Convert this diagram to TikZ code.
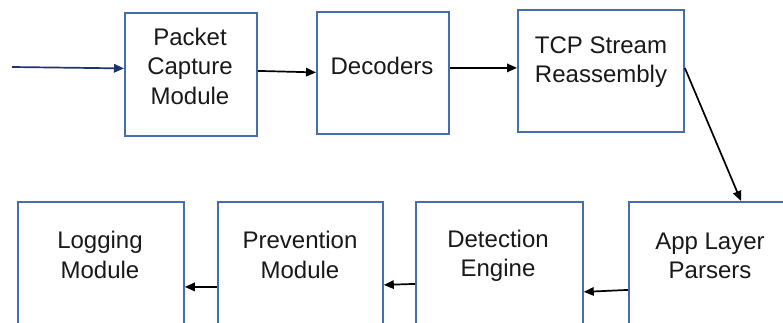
\documentclass[tikz,border=0pt]{standalone}
\usepackage{fontspec}
\setmainfont{Liberation Sans}
\usetikzlibrary{arrows.meta}
\definecolor{boxblue}{RGB}{70,108,178}
\definecolor{inblue}{RGB}{30,52,110}
\tikzset{
  stage/.style={draw=boxblue, line width=1.8pt, fill=white, anchor=north west,
    inner sep=0pt},
  lbl/.style={align=center, font=\fontsize{24}{29.5}\selectfont, text=black!90, inner sep=0pt},
  flow/.style={line width=1.7pt, -{Triangle[length=10pt,width=8.5pt]}},
}
\begin{document}
\begin{tikzpicture}[x=1pt,y=-1pt]
  \useasboundingbox (0,0) rectangle (783,322);
  \clip (0,0) rectangle (783,322);

  % top row
  \node[stage, minimum width=132pt, minimum height=123pt] (pcm) at (124,12) {};
  \node[stage, minimum width=132pt, minimum height=122pt] (dec) at (316,11) {};
  \node[stage, minimum width=166pt, minimum height=122pt] (tcp) at (517,9) {};
  % bottom row (runs past the lower edge)
  \node[stage, minimum width=166pt, minimum height=160pt] (log) at (17,201) {};
  \node[stage, minimum width=165pt, minimum height=160pt] (prv) at (217,201) {};
  \node[stage, minimum width=167pt, minimum height=160pt] (det) at (415,201) {};
  \node[stage, minimum width=170pt, minimum height=160pt] (app) at (628,201) {};

  % labels
  \node[lbl] (pcmt) at (190,66) {Packet\\Capture\\Module};
  \node[lbl] (dect) at (382,66) {Decoders};
  \node[lbl] (tcpt) at (601,62) {TCP Stream\\Reassembly};
  \node[lbl] (logt) at (100,255) {Logging\\Module};
  \node[lbl] (prvt) at (300,255) {Prevention\\Module};
  \node[lbl] (dett) at (498,256) {Detection\\Engine};
  \node[lbl] (appt) at (710,256) {App Layer\\Parsers};

  % connectors
  \coordinate (src) at (12,67);
  \draw[flow, draw=inblue, fill=inblue] (src) -- ([yshift=6pt]pcm.west);
  \draw[flow] ([yshift=3.5pt]pcm.east) -- ([yshift=0.5pt]dec.west);
  \draw[flow] ([yshift=5pt]dec.east) -- ([yshift=3pt]tcp.west);
  \draw[flow] ([yshift=3pt]tcp.east) -- ([xshift=113pt]app.north west);
  \draw[flow] ([yshift=-8pt]app.west) -- ([yshift=-10pt]det.east);
  \draw[flow] ([yshift=-2pt]det.west) -- ([yshift=-3pt]prv.east);
  \draw[flow] ([yshift=-5pt]prv.west) -- ([yshift=-5pt]log.east);
\end{tikzpicture}
\end{document}
